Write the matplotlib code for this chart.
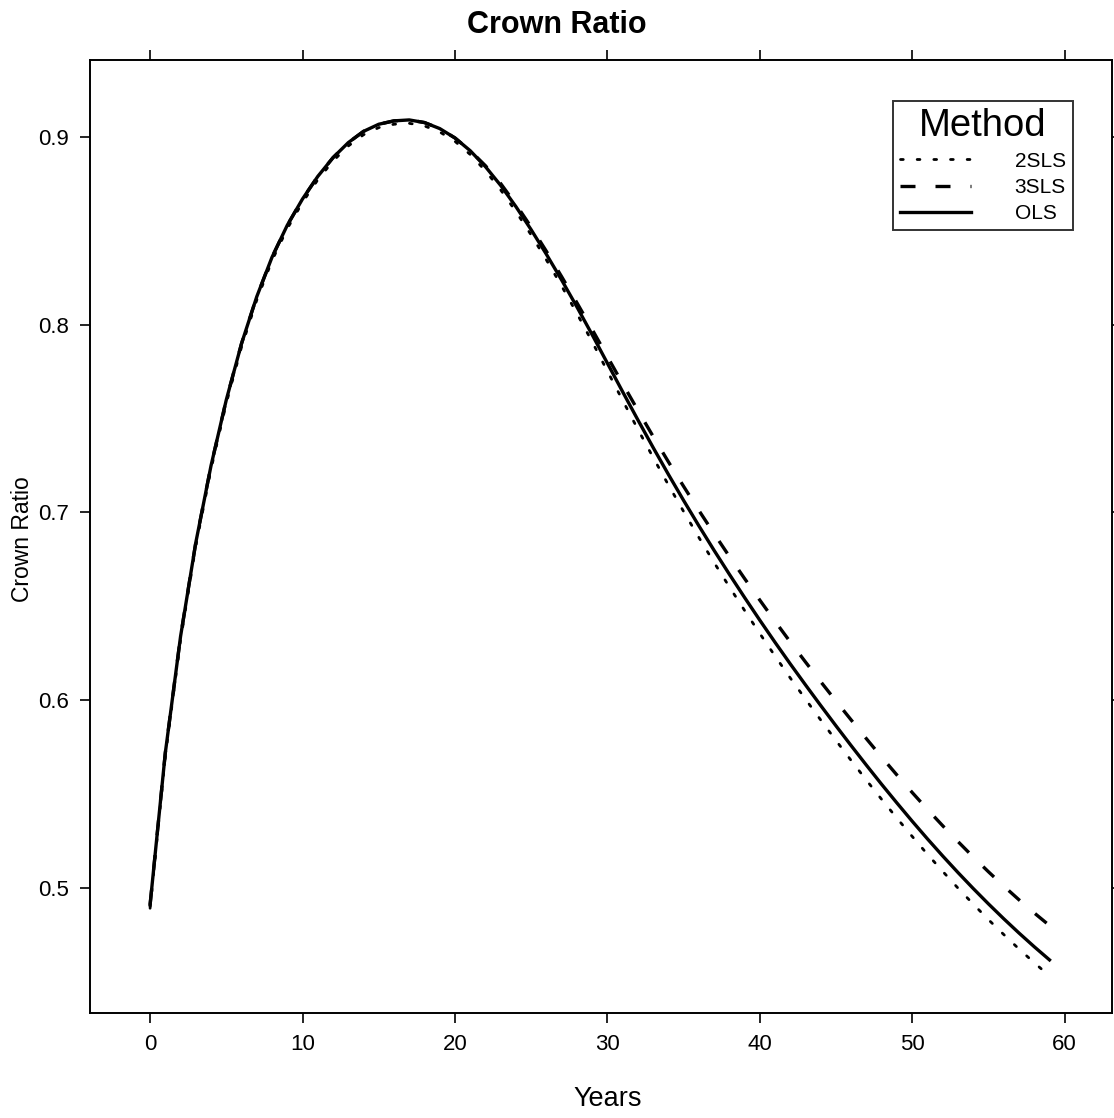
import matplotlib
matplotlib.use("Agg")
import matplotlib.pyplot as plt

plt.rcParams['font.family'] = ['Liberation Sans', 'DejaVu Sans']

years = list(range(0, 60))
ols = [0.4910, 0.5720, 0.6340, 0.6840, 0.7250, 0.7600, 0.7900, 0.8150, 0.8360, 0.8530,
       0.8670, 0.8790, 0.8890, 0.8970, 0.9030, 0.9068, 0.9086, 0.9091, 0.9077, 0.9045,
       0.8995, 0.8927, 0.8842, 0.8742, 0.8629, 0.8506, 0.8375, 0.8238, 0.8095, 0.7947,
       0.7795, 0.7643, 0.7493, 0.7346, 0.7203, 0.7064, 0.6929, 0.6798, 0.6671, 0.6547,
       0.6426, 0.6308, 0.6193, 0.6081, 0.5971, 0.5863, 0.5757, 0.5653, 0.5551, 0.5452,
       0.5355, 0.5261, 0.5170, 0.5082, 0.4997, 0.4915, 0.4836, 0.4760, 0.4687, 0.4617]
sls3 = [0.4910, 0.5720, 0.6340, 0.6840, 0.7250, 0.7600, 0.7900, 0.8150, 0.8360, 0.8530,
        0.8670, 0.8790, 0.8890, 0.8970, 0.9030, 0.9068, 0.9086, 0.9091, 0.9077, 0.9045,
        0.8995, 0.8927, 0.8847, 0.8752, 0.8641, 0.8520, 0.8391, 0.8256, 0.8117, 0.7975,
        0.7830, 0.7686, 0.7544, 0.7405, 0.7270, 0.7139, 0.7011, 0.6887, 0.6766, 0.6648,
        0.6533, 0.6420, 0.6310, 0.6203, 0.6098, 0.5995, 0.5894, 0.5794, 0.5696, 0.5601,
        0.5508, 0.5418, 0.5331, 0.5247, 0.5165, 0.5086, 0.5010, 0.4937, 0.4867, 0.4800]
sls2 = [0.4892, 0.5702, 0.6322, 0.6822, 0.7232, 0.7582, 0.7882, 0.8132, 0.8342, 0.8512,
        0.8652, 0.8772, 0.8872, 0.8952, 0.9012, 0.9050, 0.9068, 0.9073, 0.9059, 0.9027,
        0.8977, 0.8907, 0.8820, 0.8718, 0.8603, 0.8478, 0.8345, 0.8206, 0.8060, 0.7909,
        0.7753, 0.7597, 0.7443, 0.7293, 0.7147, 0.7005, 0.6867, 0.6733, 0.6604, 0.6478,
        0.6355, 0.6235, 0.6118, 0.6005, 0.5894, 0.5785, 0.5678, 0.5573, 0.5471, 0.5371,
        0.5274, 0.5179, 0.5088, 0.4999, 0.4914, 0.4831, 0.4752, 0.4675, 0.4602, 0.4531]

x_ticks = [0, 10, 20, 30, 40, 50, 60]
y_ticks = [0.5, 0.6, 0.7, 0.8, 0.9]
y_tick_labels = ['0.5', '0.6', '0.7', '0.8', '0.9']
methods = ['2SLS', '3SLS', 'OLS']

fig = plt.figure(figsize=(11.14, 11.18), dpi=100)
ax = fig.add_axes([0.0808, 0.0939, 0.9174, 0.8524])

ax.plot(years, sls2, color='black', lw=2.0, linestyle=(0, (1, 5)),
        dash_capstyle='round', label=methods[0])
ax.plot(years, sls3, color='black', lw=2.4, linestyle=(0, (4.5, 6)),
        label=methods[1])
ax.plot(years, ols, color='black', lw=2.4, linestyle='-', label=methods[2])

ax.set_xlim(-3.94, 63.1)
ax.set_ylim(0.4334, 0.941)
ax.set_xticks(x_ticks)
ax.set_yticks(y_ticks)
ax.set_yticklabels(y_tick_labels)
ax.tick_params(direction='out', length=7, width=1.2, labelsize=16,
               top=True, right=True, labeltop=False, labelright=False,
               pad=8)
for s in ax.spines.values():
    s.set_linewidth(1.4)

ax.set_xlabel('Years', fontsize=19.5)
ax.xaxis.set_label_coords(0.507, -0.077)
ax.set_ylabel('Crown Ratio', fontsize=16.5)
ax.yaxis.set_label_coords(-0.0548, 0.497)
fig.text(0.5, 0.978, 'Crown Ratio', ha='center', va='center',
         fontsize=22, fontweight='bold')

leg = ax.legend(loc='upper right', bbox_to_anchor=(0.962, 0.957),
                title='Method', title_fontsize=27.5, fontsize=15,
                frameon=True, fancybox=False, handlelength=3.4,
                handletextpad=2.1, borderpad=0.35, labelspacing=0.35,
                borderaxespad=0)
leg.get_frame().set_edgecolor('black')
leg.get_frame().set_linewidth(1.4)

fig.savefig('out.png', dpi=100)
